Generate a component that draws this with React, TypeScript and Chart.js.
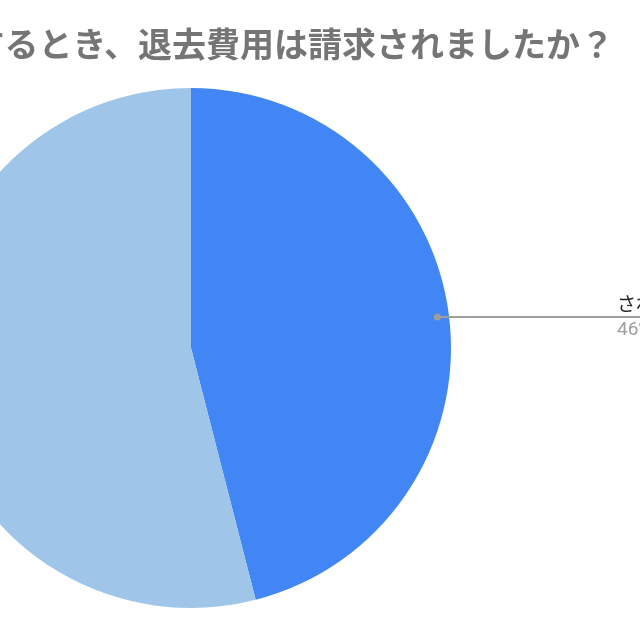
import React, { useEffect, useRef } from "react";
import { Chart, registerables } from "chart.js";

Chart.register(...registerables);

const TITLE = "退去するとき、退去費用は請求されましたか？";
const categories = ["されなかった", "された"];
const values = [46, 54];
const valueLabels = ["46%", "54%"];
const colors = ["#4285F4", "#9FC5E8"];

const FONT = "Roboto, 'Noto Sans CJK JP', sans-serif";
const SHIFT = 150; // canvas is shifted left so the chart appears cropped

const titlePlugin = {
  id: "sheetTitle",
  afterDraw(chart: any) {
    const ctx = chart.ctx;
    ctx.save();
    ctx.font = `bold 34px ${FONT}`;
    ctx.fillStyle = "#757575";
    ctx.textAlign = "right";
    ctx.textBaseline = "middle";
    ctx.fillText(TITLE, 614 + SHIFT, 48);
    ctx.restore();
  },
};

const labelPlugin = {
  id: "sheetLabels",
  afterDatasetsDraw(chart: any) {
    const ctx = chart.ctx;
    const meta = chart.getDatasetMeta(0);
    ctx.save();
    meta.data.forEach((arc: any, i: number) => {
      const { x, y, startAngle, endAngle, outerRadius } = arc.getProps(
        ["x", "y", "startAngle", "endAngle", "outerRadius"],
        true
      );
      const mid = (startAngle + endAngle) / 2;
      const r = outerRadius * 0.955;
      const px = x + Math.cos(mid) * r;
      const py = y + Math.sin(mid) * r;
      const right = Math.cos(mid) >= 0;
      const lineEnd = right ? x + outerRadius + 166 : x - outerRadius - 166;
      ctx.font = `19px ${FONT}`;
      const w = Math.max(
        ctx.measureText(categories[i]).width,
        ctx.measureText(valueLabels[i]).width
      );
      const farEnd = right ? lineEnd + w + 4 : lineEnd - w - 4;
      ctx.strokeStyle = "#9E9E9E";
      ctx.lineWidth = 2;
      ctx.beginPath();
      ctx.moveTo(px, py);
      ctx.lineTo(farEnd, py);
      ctx.stroke();
      ctx.fillStyle = "#9E9E9E";
      ctx.beginPath();
      ctx.arc(px, py, 3.5, 0, Math.PI * 2);
      ctx.fill();
      ctx.textAlign = right ? "left" : "right";
      ctx.textBaseline = "alphabetic";
      ctx.fillStyle = "#222222";
      ctx.fillText(categories[i], lineEnd, py - 6);
      ctx.fillStyle = "#9E9E9E";
      ctx.fillText(valueLabels[i], lineEnd, py + 18);
    });
    ctx.restore();
  },
};

export default function App() {
  const ref = useRef<HTMLCanvasElement>(null);
  useEffect(() => {
    if (!ref.current) return;
    const chart = new Chart(ref.current, {
      type: "pie",
      data: {
        labels: categories,
        datasets: [
          {
            data: values,
            backgroundColor: colors,
            borderWidth: 0,
            hoverOffset: 0,
            offset: 0,
          },
        ],
      },
      options: {
        animation: false,
        responsive: false,
        events: [],
        layout: { padding: { top: 88, bottom: 32, left: 81, right: 299 } },
        plugins: {
          legend: { display: false },
          title: { display: false },
          tooltip: { enabled: false },
        },
      },
      plugins: [titlePlugin, labelPlugin],
    });
    return () => chart.destroy();
  }, []);
  return (
    <div
      style={{
        position: "fixed",
        left: 0,
        top: 0,
        width: 640,
        height: 640,
        overflow: "hidden",
        background: "#fff",
      }}
    >
      <canvas
        ref={ref}
        width={900}
        height={640}
        style={{ position: "absolute", left: -SHIFT, top: 0, width: 900, height: 640 }}
      />
    </div>
  );
}
